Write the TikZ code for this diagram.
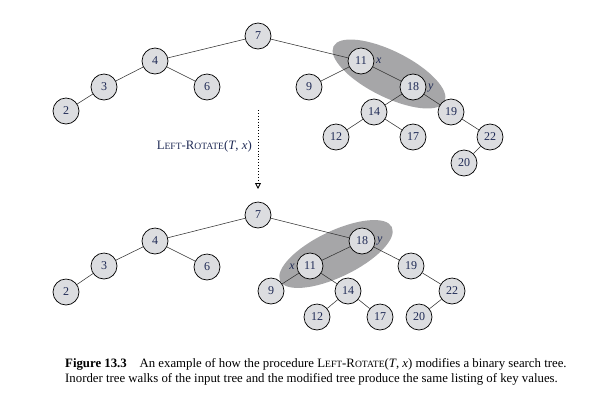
\documentclass[tikz,border=0pt]{standalone}
\usepackage{fontspec}
\setmainfont{Liberation Serif}
\usetikzlibrary{arrows.meta}
\definecolor{nodefill}{HTML}{DCDDE0}
\definecolor{ellfill}{HTML}{A6A6A8}
\definecolor{numcol}{HTML}{1F2A55}
\tikzset{
  tnode/.style={circle, draw=black, line width=0.7pt, fill=nodefill, minimum size=26pt, inner sep=0pt, font=\fontsize{12}{14}\selectfont, text=numcol},
  tedge/.style={draw=black!80, line width=0.55pt},
  shade/.style={fill=ellfill, draw=none},
  lbl/.style={font=\fontsize{12}{14}\selectfont\itshape, text=numcol, inner sep=0pt}
}
\newcommand{\LR}{L{\fontsize{9.6}{11}\selectfont EFT}-R{\fontsize{9.6}{11}\selectfont OTATE}}
\begin{document}
\begin{tikzpicture}[x=1pt,y=-1pt]
\useasboundingbox (0,0) rectangle (613,413);
% ellipses
\fill[shade, rotate around={-26.5:(389,74)}] (389,74) ellipse (62 and 23);
\fill[shade, rotate around={25.7:(336,254)}] (336,254) ellipse (62 and 23);
% top tree
\node[tnode] (a7) at (258,36) {7};
\node[tnode] (a4) at (155,61) {4};
\node[tnode] (a3) at (104,87) {3};
\node[tnode] (a6) at (207,87) {6};
\node[tnode] (a2) at (66,111) {2};
\node[tnode] (a11) at (361,61) {11};
\node[tnode] (a9) at (309,87) {9};
\node[tnode] (a18) at (413,87) {18};
\node[tnode] (a14) at (374,112) {14};
\node[tnode] (a19) at (451,112) {19};
\node[tnode] (a12) at (336,137) {12};
\node[tnode] (a17) at (413,137) {17};
\node[tnode] (a22) at (490,137) {22};
\node[tnode] (a20) at (464,163) {20};
\foreach \p/\c in {a7/a4,a4/a3,a4/a6,a3/a2,a7/a11,a11/a9,a11/a18,a18/a14,a18/a19,a14/a12,a14/a17,a19/a22,a22/a20}
  \draw[tedge] (\p) -- (\c);
\node[lbl, anchor=west] (ax) at (376,61) {x};
\node[lbl, anchor=west] (ay) at (428,88) {y};
% arrow
\coordinate (arrtop) at (258,110);
\coordinate (arrbot) at (258,189);
\draw[line width=0.9pt, dotted, -{Triangle[open,length=6pt,width=6pt,sep=0pt]}] (arrtop) -- (arrbot);
\node[anchor=east, inner sep=0pt, font=\fontsize{12.8}{15}\selectfont, text=numcol] (op) at (252,146) {\LR(\textit{T}, \textit{x})};
% bottom tree
\node[tnode] (b7) at (258,215) {7};
\node[tnode] (b4) at (155,241) {4};
\node[tnode] (b3) at (104,266) {3};
\node[tnode] (b6) at (207,267) {6};
\node[tnode] (b2) at (66,292) {2};
\node[tnode] (b18) at (362,241) {18};
\node[tnode] (b11) at (310,266) {11};
\node[tnode] (b19) at (411,266) {19};
\node[tnode] (b9) at (271,291) {9};
\node[tnode] (b14) at (348,291) {14};
\node[tnode] (b22) at (452,291) {22};
\node[tnode] (b12) at (317,317) {12};
\node[tnode] (b17) at (380,317) {17};
\node[tnode] (b20) at (419,317) {20};
\foreach \p/\c in {b7/b4,b4/b3,b4/b6,b3/b2,b7/b18,b18/b11,b18/b19,b11/b9,b11/b14,b14/b12,b14/b17,b19/b22,b22/b20}
  \draw[tedge] (\p) -- (\c);
\node[lbl, anchor=west] (by) at (377,241) {y};
\node[lbl, anchor=east] (bx) at (295,267) {x};
% caption
\node[anchor=north west, inner sep=0pt, align=left, font=\fontsize{12.8}{15.5}\selectfont] (cap) at (65,358)
 {\textbf{Figure 13.3}\hspace{1em}An example of how the procedure \LR(\textit{T}, \textit{x}) modifies a binary search tree.\\
 Inorder tree walks of the input tree and the modified tree produce the same listing of key values.};
\end{tikzpicture}
\end{document}
